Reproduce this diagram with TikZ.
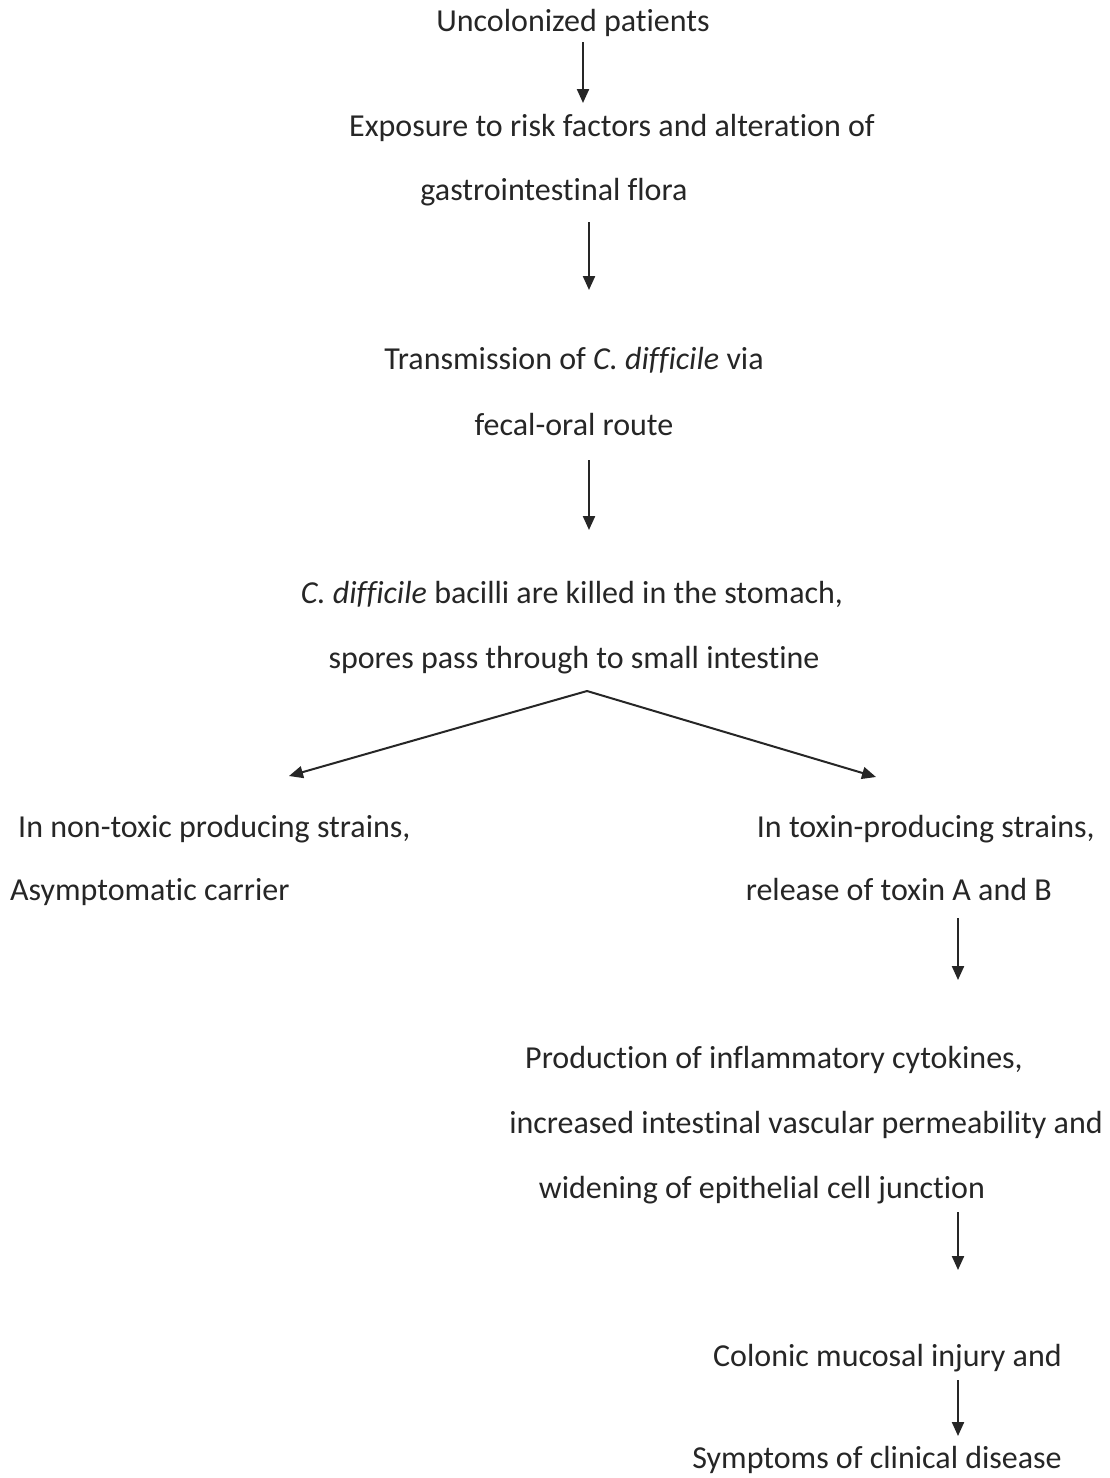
\documentclass[tikz,border=0pt]{standalone}
\usepackage{fontspec}
\setmainfont{Carlito}[Ligatures=NoCommon]
\usetikzlibrary{arrows.meta}
\begin{document}
\begin{tikzpicture}[x=1pt,y=-1pt,
  txt/.style={inner sep=0pt,font=\fontsize{32}{38}\selectfont,text=black!85},
  flow/.style={line width=2.2pt,draw=black!85,-{Triangle[length=14pt,width=12pt]}},
  fork/.style={line width=2pt,draw=black!85,-{Triangle[length=14pt,width=12pt]}}]
\useasboundingbox[fill=white] (0,0) rectangle (1109,1478);
\node[txt,anchor=mid] (t1) at (573,29) {Uncolonized patients};
\node[txt,anchor=mid] (t2a) at (612,134) {Exposure to risk factors and alteration of};
\node[txt,anchor=mid] (t2b) at (554,198) {gastrointestinal flora};
\node[txt,anchor=mid] (t3a) at (574,367) {Transmission of \textit{C. difficile} via};
\node[txt,anchor=mid] (t3b) at (574,433) {fecal-oral route};
\node[txt,anchor=mid] (t4a) at (572,601) {\textit{C. difficile} bacilli are killed in the stomach,};
\node[txt,anchor=mid] (t4b) at (574,666) {spores pass through to small intestine};
\node[txt,anchor=mid west] (l1) at (18,835) {In non-toxic producing strains,};
\node[txt,anchor=mid west] (l2) at (10,898) {Asymptomatic carrier};
\node[txt,anchor=mid east] (r1) at (1095,835) {In toxin-producing strains,};
\node[txt,anchor=mid east] (r2) at (1052,898) {release of toxin A and B};
\node[txt,anchor=mid] (p1) at (774,1066) {Production of inflammatory cytokines,};
\node[txt,anchor=mid] (p2) at (806,1131) {increased intestinal vascular permeability and};
\node[txt,anchor=mid] (p3) at (762,1196) {widening of epithelial cell junction};
\node[txt,anchor=mid east] (c1) at (1062,1364) {Colonic mucosal injury and};
\node[txt,anchor=mid east] (s1) at (1062,1466) {Symptoms of clinical disease};
% arrow end points
\coordinate (a1s) at (583,42);  \coordinate (a1e) at (583,103);
\coordinate (a2s) at (589,222); \coordinate (a2e) at (589,290);
\coordinate (a3s) at (589,460); \coordinate (a3e) at (589,530);
\coordinate (apex) at (587,691);
\coordinate (fl) at (289,776);  \coordinate (fr) at (876,777);
\coordinate (a4s) at (958,918); \coordinate (a4e) at (958,980);
\coordinate (a5s) at (958,1212); \coordinate (a5e) at (958,1270);
\coordinate (a6s) at (958,1380); \coordinate (a6e) at (958,1436);
\draw[flow] (a1s) -- (a1e);
\draw[flow] (a2s) -- (a2e);
\draw[flow] (a3s) -- (a3e);
\draw[fork] (apex) -- (fl);
\draw[fork] (apex) -- (fr);
\draw[flow] (a4s) -- (a4e);
\draw[flow] (a5s) -- (a5e);
\draw[flow] (a6s) -- (a6e);
\end{tikzpicture}
\end{document}
